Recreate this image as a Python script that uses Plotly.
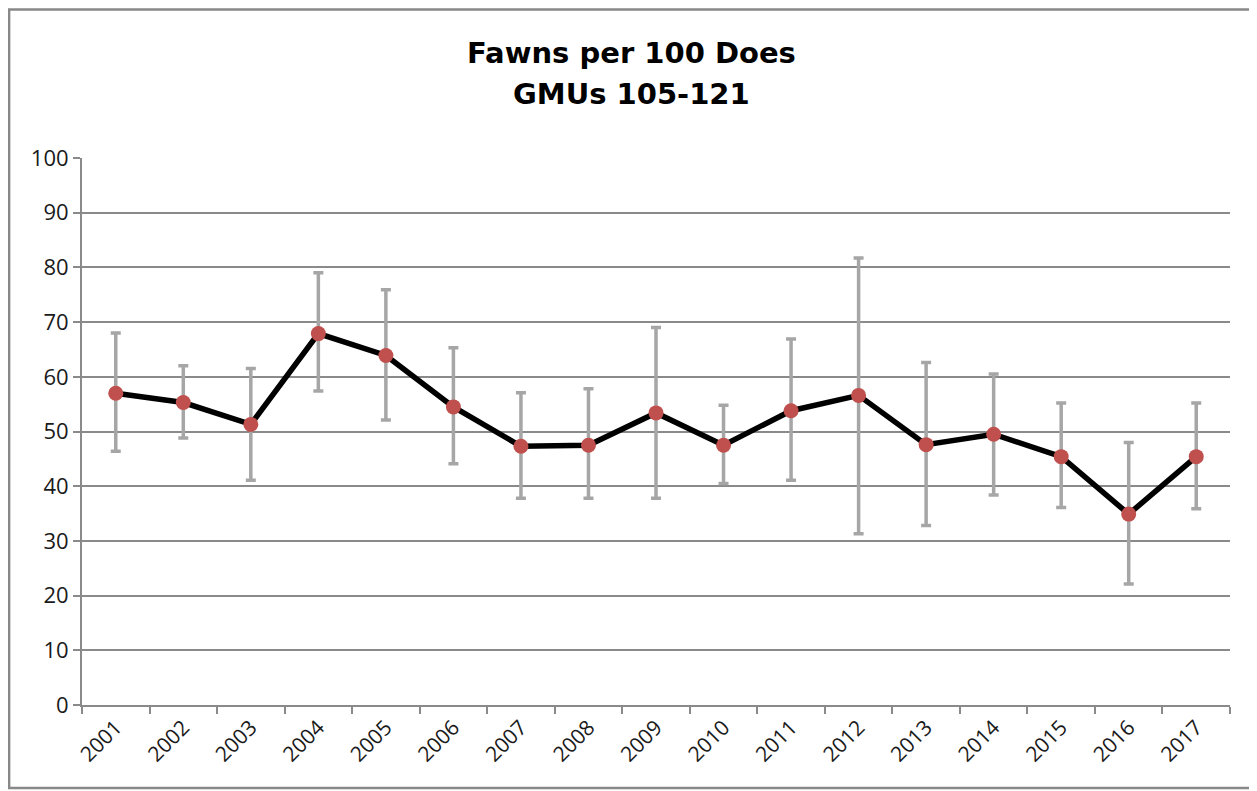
import plotly.graph_objects as go

# data
years = ['2001', '2002', '2003', '2004', '2005', '2006', '2007', '2008', '2009',
         '2010', '2011', '2012', '2013', '2014', '2015', '2016', '2017']
fawns = [57.0, 55.3, 51.3, 67.9, 63.9, 54.5, 47.3, 47.5, 53.4,
         47.5, 53.8, 56.6, 47.6, 49.5, 45.4, 34.9, 45.4]
upper = [68.0, 62.0, 61.5, 79.0, 75.9, 65.3, 57.1, 57.8, 69.0,
         54.8, 66.9, 81.7, 62.6, 60.5, 55.2, 48.0, 55.2]
lower = [46.4, 48.8, 41.1, 57.4, 52.1, 44.1, 37.8, 37.8, 37.8,
         40.5, 41.1, 31.3, 32.8, 38.4, 36.1, 22.1, 35.9]

y_ticks = [0, 10, 20, 30, 40, 50, 60, 70, 80, 90, 100]

err_up = [u - v for u, v in zip(upper, fawns)]
err_down = [v - l for v, l in zip(fawns, lower)]

gridColor = '#8a8a8a'
font = 'Open Sans, Liberation Sans, sans-serif'
titleFont = 'DejaVu Sans, Open Sans, sans-serif'

fig = go.Figure()

# error bars first so the line sits on top
fig.add_trace(go.Scatter(
    x=years, y=fawns, mode='markers',
    marker=dict(size=1, color='rgba(0,0,0,0)'),
    error_y=dict(type='data', symmetric=False, array=err_up, arrayminus=err_down,
                 color='#a6a6a6', thickness=3.5, width=5),
    hoverinfo='skip', showlegend=False
))

fig.add_trace(go.Scatter(
    x=years, y=fawns, mode='lines+markers',
    line=dict(color='black', width=5.5),
    marker=dict(size=15, color='#c0504d'),
    showlegend=False
))

fig.update_layout(
    width=1249, height=783,
    margin={'l': 74, 'r': 27, 't': 150, 'b': 86},
    paper_bgcolor='white',
    plot_bgcolor='white',
    font={'family': font, 'color': '#1a1a1a', 'size': 20},
    xaxis={
        'type': 'category',
        'range': [-0.5, 16.5],
        'tickson': 'boundaries',
        'ticks': 'outside', 'ticklen': 7, 'tickwidth': 2, 'tickcolor': gridColor,
        'showline': True, 'linecolor': gridColor, 'linewidth': 2,
        'showgrid': False,
        'tickangle': -45,
        'tickfont': {'size': 21, 'family': font},
    },
    yaxis={
        'range': [0, 100],
        'tickvals': y_ticks,
        'ticks': 'outside', 'ticklen': 7, 'tickwidth': 2, 'tickcolor': gridColor,
        'showline': True, 'linecolor': gridColor, 'linewidth': 2,
        'gridcolor': gridColor, 'gridwidth': 2,
        'zeroline': False,
        'tickfont': {'size': 22, 'family': font},
    },
    annotations=[
        dict(text='<b>Fawns per 100 Does</b>', xref='paper', yref='paper',
             x=0.4786, y=1.192, xanchor='center', yanchor='middle', showarrow=False,
             font={'size': 29, 'color': 'black', 'family': titleFont}),
        dict(text='<b>GMUs 105-121</b>', xref='paper', yref='paper',
             x=0.4786, y=1.117, xanchor='center', yanchor='middle', showarrow=False,
             font={'size': 29, 'color': 'black', 'family': titleFont}),
    ],
    shapes=[
        dict(type='rect', xref='paper', yref='paper',
             x0=-0.0635, x1=1.0218, y0=-0.1517, y1=1.2715,
             line={'color': '#888', 'width': 2.5}, layer='below'),
    ],
)

fig.write_html("out.html")
